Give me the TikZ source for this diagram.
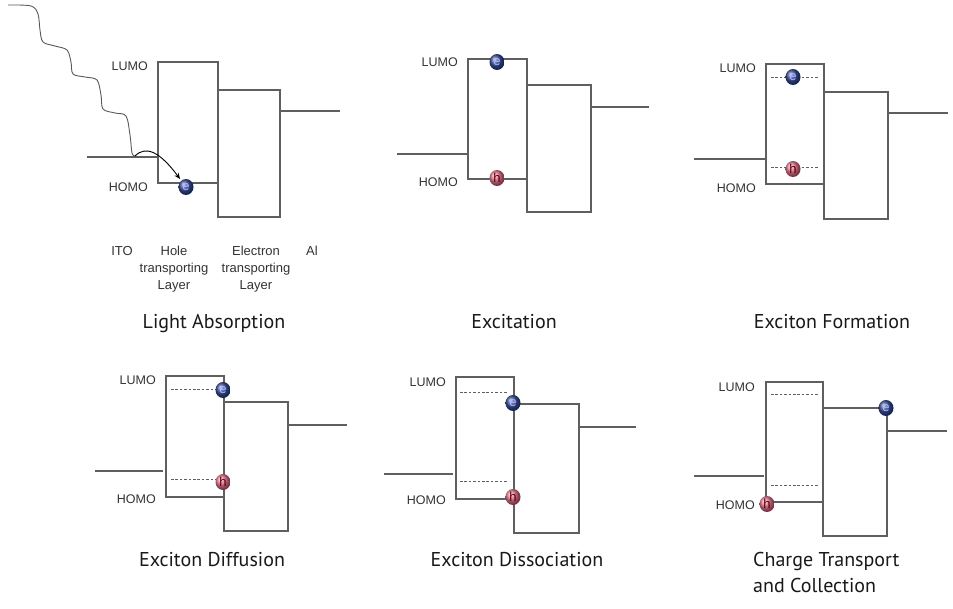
\documentclass[tikz,border=0pt]{standalone}
\usepackage{fontspec}
\setmainfont{Liberation Sans}
\newfontfamily\titlefont{PT Sans}
\usetikzlibrary{arrows.meta}
\definecolor{band}{RGB}{95,95,95}
\definecolor{elecblue}{RGB}{55,80,155}
\definecolor{holepink}{RGB}{238,120,150}
\tikzset{
  level/.style={draw=band, line width=1.2pt},
  trap/.style={draw=band, line width=1pt, dash pattern=on 2.6pt off 1.8pt},
  lbl/.style={font=\fontsize{12.5}{14}\selectfont, text=black!80, anchor=east, inner sep=0pt},
  layer/.style={font=\fontsize{13}{17}\selectfont, text=black!80, align=center, inner sep=0pt, anchor=north},
  title/.style={font=\titlefont\fontsize{20}{26}\selectfont, text=black!90, inner sep=0pt, anchor=base},
  carrier/.style={ellipse, inner sep=0pt, minimum width=15pt, minimum height=16pt, font=\fontsize{13}{13}\selectfont},
  elec/.style={carrier, ball color=elecblue, text=white!70!blue},
  hole/.style={carrier, ball color=holepink, text=red!30!black},
}
\usetikzlibrary{shapes.geometric}
\begin{document}
\begin{tikzpicture}[x=1pt, y=-1pt]
\path[fill=white, use as bounding box] (0,0) rectangle (953,608);

% ---------- Light Absorption ----------
\draw[level] (87,157) -- (158,157);
\draw[level] (158,62) rectangle (218,183);
\draw[level] (218,90) rectangle (280,217);
\draw[level] (280,111) -- (340,111);
\node[lbl] (l1) at (148,66) {LUMO};
\node[lbl] (h1) at (148,187) {HOMO};
\node[elec] (e1) at (186,187) {e};
\draw[draw=black!65, line width=0.9pt] plot[smooth, tension=0.55] coordinates {
  (8,5) (31,6) (38,14) (40,30) (43,42) (55,46) (67,50) (71,62) (73,74)
  (85,77) (97,80) (101,95) (103,109) (115,113) (126,116) (130,135) (132,153) (135,156)};
\coordinate (wend) at (135,156);
\draw[black, line width=0.9pt, -{Stealth[length=6pt,width=5pt]}, shorten >=2pt]
  (wend) .. controls (146,145) and (160,152) .. (e1);
\node[layer] (ito) at (122,246) {ITO};
\node[layer] (htl) at (174,246) {Hole\\transporting\\Layer};
\node[layer] (etl) at (256,246) {Electron\\transporting\\Layer};
\node[layer] (al) at (312,246) {Al};
\node[title] (t1) at (214,328) {Light Absorption};

% ---------- Excitation ----------
\draw[level] (397,154) -- (468,154);
\draw[level] (468,59) rectangle (527,179);
\draw[level] (527,85) rectangle (591,212);
\draw[level] (591,107) -- (649,107);
\node[lbl] (l2) at (458,62) {LUMO};
\node[lbl] (h2) at (458,182) {HOMO};
\node[elec] (e2) at (497,62) {e};
\node[hole] (p2) at (497,178) {h};
\node[title] (t2) at (514,328) {Excitation};

% ---------- Exciton Formation ----------
\draw[level] (694,159) -- (766,159);
\draw[level] (766,64) rectangle (824,184);
\draw[level] (824,92) rectangle (888,219);
\draw[level] (888,113) -- (948,113);
\draw[trap] (771,77) -- (818,77);
\draw[trap] (771,167) -- (818,167);
\node[lbl] (l3) at (756,68) {LUMO};
\node[lbl] (h3) at (756,188) {HOMO};
\node[elec] (e3) at (793,77) {e};
\node[hole] (p3) at (793,169) {h};
\node[title] (t3) at (832,328) {Exciton Formation};

% ---------- Exciton Diffusion ----------
\draw[level] (95,471) -- (163,471);
\draw[level] (166,376) rectangle (224,497);
\draw[level] (224,402) rectangle (288,531);
\draw[level] (288,425) -- (347,425);
\draw[trap] (171,389) -- (218,389);
\draw[trap] (171,479) -- (218,479);
\node[lbl] (l4) at (156,380) {LUMO};
\node[lbl] (h4) at (156,499) {HOMO};
\node[elec] (e4) at (223,390) {e};
\node[hole] (p4) at (223,482) {h};
\node[title] (t4) at (212,566) {Exciton Diffusion};

% ---------- Exciton Dissociation ----------
\draw[level] (384,474) -- (453,474);
\draw[level] (456,377) rectangle (514,499);
\draw[level] (514,404) rectangle (579,533);
\draw[level] (579,427) -- (636,427);
\draw[trap] (460,392) -- (507,392);
\draw[trap] (460,481) -- (507,481);
\node[lbl] (l5) at (446,382) {LUMO};
\node[lbl] (h5) at (446,500) {HOMO};
\node[elec] (e5) at (513,403) {e};
\node[hole] (p5) at (513,497) {h};
\node[title] (t5) at (517,566) {Exciton Dissociation};

% ---------- Charge Transport and Collection ----------
\draw[level] (694,476) -- (764,476);
\draw[level] (766,382) rectangle (823,502);
\draw[level] (823,408) rectangle (887,536);
\draw[level] (887,431) -- (947,431);
\draw[trap] (771,394) -- (818,394);
\draw[trap] (771,485) -- (818,485);
\node[lbl] (l6) at (755,387) {LUMO};
\node[lbl] (h6) at (755,505) {HOMO};
\node[elec] (e6) at (886,408) {e};
\node[hole] (p6) at (767,504) {h};
\node[title, align=left, anchor=north west] (t6) at (753,552) {Charge Transport\\and Collection};
\end{tikzpicture}
\end{document}
